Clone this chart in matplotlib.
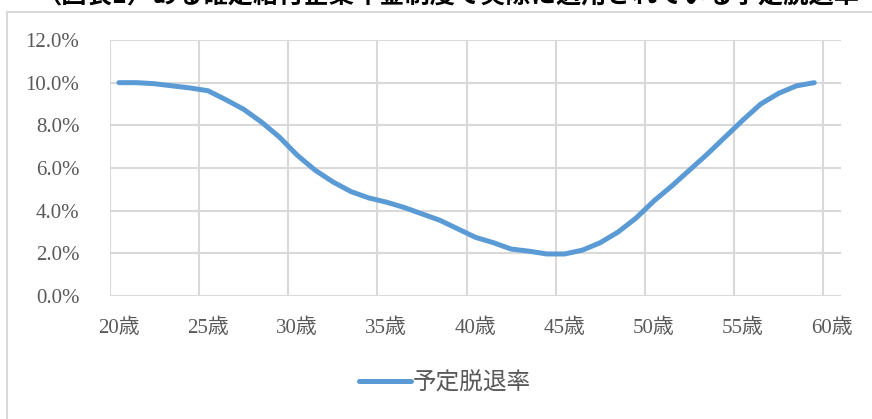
import matplotlib
matplotlib.use("agg")

import matplotlib.pyplot as plt
import numpy as np
from matplotlib.patches import Rectangle
from matplotlib.ticker import FixedLocator, PercentFormatter

# Ages on the category axis (20 to 60) and the assumed withdrawal rate (%) for 20-59.
ages = list(range(20, 61))
rates = [10.0, 10.0, 9.95, 9.85, 9.75, 9.62, 9.2, 8.75, 8.15, 7.45,
         6.6, 5.9, 5.35, 4.9, 4.6, 4.4, 4.15, 3.85, 3.55, 3.15,
         2.75, 2.5, 2.2, 2.1, 1.97, 1.97, 2.15, 2.5, 3.0, 3.65,
         4.45, 5.15, 5.9, 6.65, 7.45, 8.25, 9.0, 9.5, 9.85, 10.0]
tick_labels = [f"{a}歳" for a in ages[::5]]
series_name = "予定脱退率"
title = "（図表1）ある確定給付企業年金制度で実際に適用されている予定脱退率"

label_font = ["Liberation Serif", "Noto Sans CJK JP"]
gray = "#595959"
grid = "#D9D9D9"

fig = plt.figure(figsize=(8.72, 4.19), dpi=100)

# Chart frame (only its top and left edges fall inside the image)
fig.patches.append(Rectangle((7 / 872, -0.1), 1.2, 1 - 12 / 419 + 0.1,
                             transform=fig.transFigure, fill=False,
                             edgecolor=grid, linewidth=1.5))

# Heading sits above the frame, mostly beyond the top edge
fig.text(448 / 872, 1 - 3 / 419, title, ha="center", va="baseline",
         fontsize=18.2, fontweight="bold", family="Noto Sans CJK JP")

ax = fig.add_axes([110 / 872, 1 - 296 / 419, 731 / 872, 256 / 419])
x = np.arange(len(ages))
ax.plot(x[:len(rates)], rates, color="#5B9BD5", linewidth=3.6,
        solid_capstyle="round", solid_joinstyle="round", label=series_name)

ax.set_xlim(-0.5, len(ages) - 0.5)
ax.set_ylim(0, 12)
ax.set_yticks(np.arange(0, 12.1, 2))
ax.yaxis.set_major_formatter(PercentFormatter(decimals=1))
ax.set_xticks(x[::5])
ax.set_xticklabels(tick_labels)
ax.xaxis.set_minor_locator(FixedLocator(np.arange(-0.5, len(ages) - 1, 5)))

ax.grid(axis="y", which="major", color=grid, linewidth=1.5)
ax.grid(axis="x", which="minor", color=grid, linewidth=1.5)
ax.set_axisbelow(True)
for s in ax.spines.values():
    s.set_visible(False)
ax.tick_params(axis="both", which="both", length=0, colors=gray)
ax.tick_params(axis="y", pad=22)
ax.tick_params(axis="x", pad=16)
for lab in ax.get_xticklabels() + ax.get_yticklabels():
    lab.set_fontfamily(label_font)
    lab.set_fontsize(15)

leg = fig.legend(loc="center", bbox_to_anchor=(445 / 872, 1 - 383 / 419),
                 frameon=False, handlelength=2.2, handletextpad=0.1,
                 prop={"family": label_font, "size": 17})
for t in leg.get_texts():
    t.set_color(gray)

fig.savefig("out.png", dpi=100)
